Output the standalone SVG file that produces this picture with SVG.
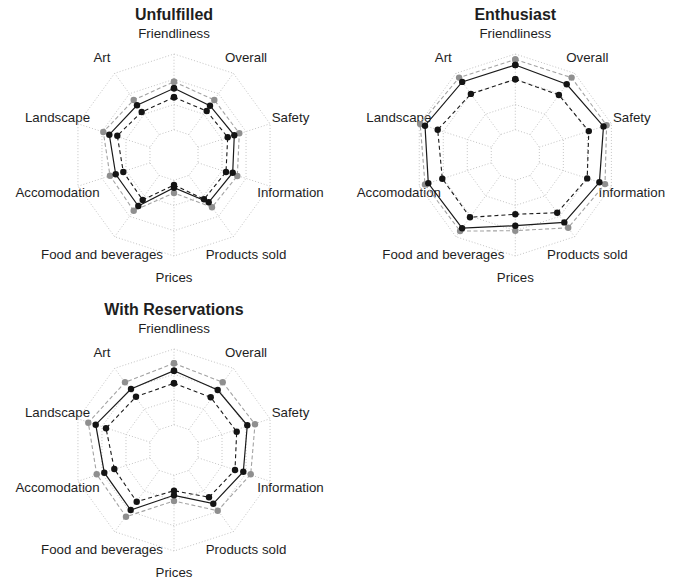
<svg xmlns="http://www.w3.org/2000/svg" width="676" height="581" viewBox="0 0 676 581">
<style>
.bg{fill:#ffffff}
.ring,.spoke{fill:none;stroke:#c4c4c4;stroke-width:1;stroke-dasharray:1 2}
.sg{fill:none;stroke:#a3a3a3;stroke-width:1.1;stroke-dasharray:4 2.5;marker-start:url(#pg);marker-mid:url(#pg);marker-end:url(#pg)}
.sd{fill:none;stroke:#1a1a1a;stroke-width:1.1;stroke-dasharray:4 3;marker-start:url(#pb);marker-mid:url(#pb);marker-end:url(#pb)}
.ss{fill:none;stroke:#1a1a1a;stroke-width:1.2;marker-start:url(#pb);marker-mid:url(#pb);marker-end:url(#pb)}
.lab{font-family:"Liberation Sans",Arial,sans-serif;font-size:13.3px;fill:#1e1e1e;text-anchor:middle}
.ttl{font-family:"Liberation Sans",Arial,sans-serif;font-size:16px;font-weight:bold;fill:#1e1e1e;text-anchor:middle}
</style>
<defs>
<marker id="pg" markerUnits="userSpaceOnUse" markerWidth="8" markerHeight="8" refX="4" refY="4" overflow="visible"><circle cx="4" cy="4" r="3.2" fill="#8f8f8f" stroke="none"/></marker>
<marker id="pb" markerUnits="userSpaceOnUse" markerWidth="8" markerHeight="8" refX="4" refY="4" overflow="visible"><circle cx="4" cy="4" r="3.2" fill="#141414" stroke="none"/></marker>
<g id="grid">
<polygon class="ring" points="0,-25.25 14.84,-20.43 24.02,-7.8 24.02,7.8 14.84,20.43 0,25.25 -14.84,20.43 -24.02,7.8 -24.02,-7.8 -14.84,-20.43"/>
<polygon class="ring" points="0,-50.5 29.68,-40.86 48.03,-15.61 48.03,15.61 29.68,40.86 0,50.5 -29.68,40.86 -48.03,15.61 -48.03,-15.61 -29.68,-40.86"/>
<polygon class="ring" points="0,-75.75 44.53,-61.28 72.04,-23.41 72.04,23.41 44.53,61.28 0,75.75 -44.53,61.28 -72.04,23.41 -72.04,-23.41 -44.53,-61.28"/>
<polygon class="ring" points="0,-101 59.37,-81.71 96.06,-31.21 96.06,31.21 59.37,81.71 0,101 -59.37,81.71 -96.06,31.21 -96.06,-31.21 -59.37,-81.71"/>
<path class="spoke" d="M0,-25.25L0,-101M14.84,-20.43L59.37,-81.71M24.02,-7.8L96.06,-31.21M24.02,7.8L96.06,31.21M14.84,20.43L59.37,81.71M0,25.25L0,101M-14.84,20.43L-59.37,81.71M-24.02,7.8L-96.06,31.21M-24.02,-7.8L-96.06,-31.21M-14.84,-20.43L-59.37,-81.71"/>
</g>
<g id="labels">
<text class="lab" x="0" y="37.5">Friendliness</text>
<text class="lab" x="72" y="61.7">Overall</text>
<text class="lab" x="116.5" y="121.5">Safety</text>
<text class="lab" x="116.5" y="197.3">Information</text>
<text class="lab" x="72" y="258.8">Products sold</text>
<text class="lab" x="0" y="281.7">Prices</text>
<text class="lab" x="-72" y="258.8">Food and beverages</text>
<text class="lab" x="-116.5" y="197.3">Accomodation</text>
<text class="lab" x="-116.5" y="121.5">Landscape</text>
<text class="lab" x="-72" y="61.7">Art</text>
</g>
</defs>
<rect class="bg" x="0" y="0" width="676" height="581"/>

<g id="chart-unfulfilled">
<text class="ttl" x="174" y="20">Unfulfilled</text>
<use href="#labels" x="174" y="0"/>
<use href="#grid" x="174" y="155"/>
<g id="series-unfulfilled">
<polygon class="sg" points="174,81.7 214.3,100 239.3,133.3 237.3,176 212,207.3 174,193 133.7,210.7 110,175.7 103.3,132 133.7,100"/>
<polygon class="sd" points="174,97.3 206.7,111 227.7,137.3 226,172 204,199.3 174,185 142.7,200 123.3,172 117.3,135.7 141.7,112"/>
<polygon class="ss" points="174,88.3 210,105.7 234.3,135.3 232.7,172.7 208.7,202.3 174,187.7 138.3,206 115.7,174.3 109.3,134.7 137,105.3"/>
</g>
</g>

<g id="chart-enthusiast">
<text class="ttl" x="515.3" y="20">Enthusiast</text>
<use href="#labels" x="515.3" y="0"/>
<use href="#grid" x="515.3" y="155"/>
<g id="series-enthusiast">
<polygon class="sg" points="515.3,59.5 571.6,77.6 606.6,125.3 605,184.1 568.2,227.8 515.3,230.7 460.1,231.1 425,184.4 420.2,124.1 459.1,77.6"/>
<polygon class="sd" points="515.3,79.3 558.9,95 588.8,131.1 587.2,178.4 557.2,212.7 515.3,214.3 470,217.3 442.3,178.7 437.7,129.8 470.9,93.9"/>
<polygon class="ss" points="515.3,65 566.7,84.3 603.5,126.4 599.4,182.3 564.3,222.4 515.3,225.7 462.1,228.2 428.3,183.3 425,125.7 462.2,81.9"/>
</g>
</g>

<g id="chart-with-reservations">
<text class="ttl" x="174" y="315">With Reservations</text>
<use href="#labels" x="174" y="295"/>
<use href="#grid" x="174" y="450"/>
<g id="series-with-reservations">
<polygon class="sg" points="174,363.3 222.7,382.3 255,424.3 250.7,474.3 217.7,510.7 174,501 126,516.7 96.7,474.3 88.3,422.7 125,382.3"/>
<polygon class="sd" points="174,383.3 210.7,397.3 236.7,431.7 235,470 209,497.3 174,490.7 136.7,501.7 114.3,469 106,428.3 136,396.7"/>
<polygon class="ss" points="174,370.7 217.7,390 247.3,425.3 243.3,471.7 213.3,503.7 174,495.3 130.7,510 104.3,472.7 95.7,424.7 131,389"/>
</g>
</g>
</svg>
